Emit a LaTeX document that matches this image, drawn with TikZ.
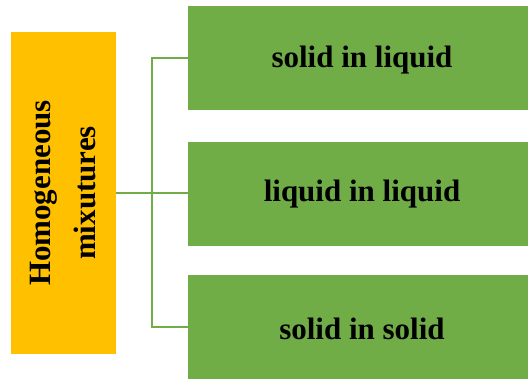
\documentclass[tikz,border=0pt]{standalone}
\usepackage{fontspec}
\setmainfont{Liberation Serif}
\definecolor{ygold}{HTML}{FFC000}
\definecolor{lgreen}{HTML}{70AD47}
\begin{document}
\begin{tikzpicture}[x=1pt,y=-1pt,
  leftbox/.style={fill=ygold,draw=none,minimum width=105pt,minimum height=322pt,inner sep=0pt},
  greenbox/.style={fill=lgreen,draw=none,minimum width=348pt,minimum height=104pt,inner sep=0pt},
  lbl/.style={font=\fontsize{31}{37}\selectfont\bfseries},
  conn/.style={draw=lgreen,line width=2.3pt}]
\useasboundingbox (0,0) rectangle (528,379);
\clip (0,0) rectangle (528,379);
\fill[white] (0,0) rectangle (528,379);
\node[leftbox] (hm) at (63.5,193) {};
\node[rotate=90,align=center,font=\fontsize{31}{45}\selectfont\bfseries] (hmt) at (63.5,193) {Homogeneous\\mixutures};
\node[greenbox,anchor=north west] (b1) at (188,6) {};
\node[greenbox,anchor=north west] (b2) at (188,141.5) {};
\node[greenbox,anchor=north west] (b3) at (188,275) {};
\node[lbl] (t1) at (362,60) {solid in liquid};
\node[lbl] (t2) at (362,194) {liquid in liquid};
\node[lbl] (t3) at (362,329) {solid in solid};
\coordinate (j) at (152,193);
\draw[conn] (hm.east) -- (j);
\draw[conn] (j) |- (b1.west);
\draw[conn] (j) |- (b3.west);
\draw[conn] (j) -- (b2.west |- j);
\end{tikzpicture}
\end{document}
